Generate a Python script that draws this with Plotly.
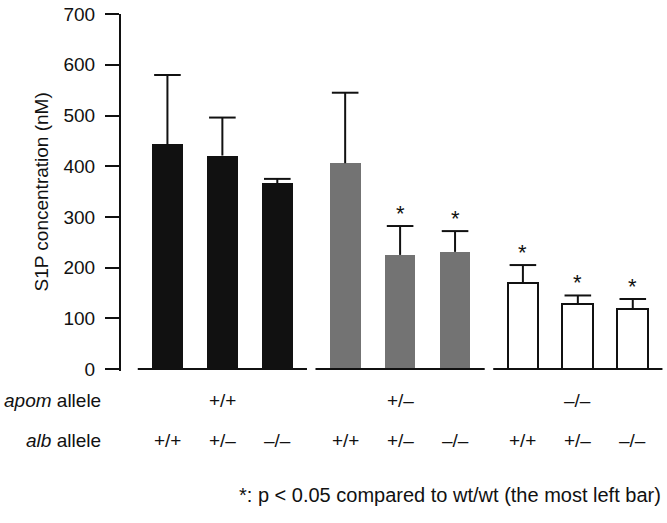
import plotly.graph_objects as go

# ---- data ----
apom_groups = ["+/+", "+/–", "–/–"]
alb_genotypes = ["+/+", "+/–", "–/–"]
s1p_mean = [443, 421, 366, 406, 225, 231, 170, 128, 118]
s1p_err = [137, 75, 9, 139, 57, 41, 35, 17, 20]
significant = [False, False, False, False, True, True, True, True, True]
y_ticks = [0, 100, 200, 300, 400, 500, 600, 700]
footnote = "*: p < 0.05 compared to wt/wt (the most left bar)"

# ---- styling / layout helpers ----
FONT = "Liberation Sans, Arial, Helvetica, sans-serif"
GROUP_STEP = 3.235
BAR_W = 0.56
fills = ["#111111", "#737373", "#ffffff"]
outline_w = [0, 0, 2]

n_g = len(apom_groups)
n_a = len(alb_genotypes)
pos = [g * GROUP_STEP + i for g in range(n_g) for i in range(n_a)]

fig = go.Figure()

for g in range(n_g):
    idx = list(range(g * n_a, (g + 1) * n_a))
    fig.add_trace(go.Bar(
        x=[pos[k] for k in idx],
        y=[s1p_mean[k] for k in idx],
        width=BAR_W,
        marker=dict(color=fills[g], line=dict(color="#111111", width=outline_w[g])),
        showlegend=False,
    ))

# error stems
sx, sy = [], []
for p, v, e in zip(pos, s1p_mean, s1p_err):
    sx += [p, p, None]
    sy += [v, v + e, None]
fig.add_trace(go.Scatter(x=sx, y=sy, mode="lines",
                         line=dict(color="#111111", width=2),
                         showlegend=False, hoverinfo="skip"))
# error caps
fig.add_trace(go.Scatter(
    x=pos, y=[v + e for v, e in zip(s1p_mean, s1p_err)], mode="markers",
    marker=dict(symbol="line-ew", size=19, line=dict(color="#111111", width=2)),
    showlegend=False, hoverinfo="skip"))

annotations = []
# asterisks
for p, v, e, s in zip(pos, s1p_mean, s1p_err, significant):
    if s:
        annotations.append(dict(x=p, y=v + e, xref="x", yref="y", text="*",
                                showarrow=False, yanchor="bottom", yshift=-2,
                                font=dict(size=22, color="#111111", family=FONT)))

# alb row labels
for k, p in enumerate(pos):
    annotations.append(dict(x=p, y=0, xref="x", yref="paper", text=alb_genotypes[k % n_a],
                            showarrow=False, yanchor="middle", yshift=-69,
                            font=dict(size=19, color="#111111", family=FONT)))
# apom row labels
for g in range(n_g):
    annotations.append(dict(x=pos[g * n_a + 1], y=0, xref="x", yref="paper",
                            text=apom_groups[g], showarrow=False, yanchor="middle",
                            yshift=-29, font=dict(size=19, color="#111111", family=FONT)))
# row headers
annotations.append(dict(x=0, y=0, xref="paper", yref="paper", text="<i>apom</i> allele",
                        showarrow=False, xanchor="right", yanchor="middle",
                        xshift=-18, yshift=-29, font=dict(size=19, color="#111111", family=FONT)))
annotations.append(dict(x=0, y=0, xref="paper", yref="paper", text="<i>alb</i> allele",
                        showarrow=False, xanchor="right", yanchor="middle",
                        xshift=-18, yshift=-69, font=dict(size=19, color="#111111", family=FONT)))
# y title
annotations.append(dict(x=0, y=0.5, xref="paper", yref="paper", text="S1P concentration (nM)",
                        showarrow=False, textangle=-90, xanchor="center", yanchor="middle",
                        xshift=-80, font=dict(size=19, color="#111111", family=FONT)))
# footnote
annotations.append(dict(x=1, y=0, xref="paper", yref="paper", text=footnote,
                        showarrow=False, xanchor="right", yanchor="middle",
                        yshift=-124, font=dict(size=20, color="#111111", family=FONT)))

# group baselines
shapes = []
for g in range(n_g):
    shapes.append(dict(type="line", xref="x", yref="y",
                       x0=pos[g * n_a] - 0.54, x1=pos[g * n_a + n_a - 1] + 0.54,
                       y0=0, y1=0, line=dict(color="#111111", width=2)))

fig.update_layout(
    width=667, height=523,
    margin=dict(l=121, r=4, t=10, b=152),
    paper_bgcolor="white", plot_bgcolor="white",
    font=dict(family=FONT, size=19, color="#111111"),
    annotations=annotations, shapes=shapes,
    bargap=0,
)
fig.update_xaxes(range=[-0.845, 9.02], visible=False)
fig.update_yaxes(range=[-4, 700.3], tickvals=y_ticks, showline=True, linewidth=2,
                 linecolor="#111111", ticks="outside", ticklen=14, tickwidth=2,
                 tickcolor="#111111", showgrid=False, zeroline=False,
                 ticklabelstandoff=6, ticklabeloverflow="allow",
                 tickfont=dict(size=19, color="#111111", family=FONT))

fig.write_html("out.html", config={"displayModeBar": False},
               post_script="document.body.style.margin='0';")
